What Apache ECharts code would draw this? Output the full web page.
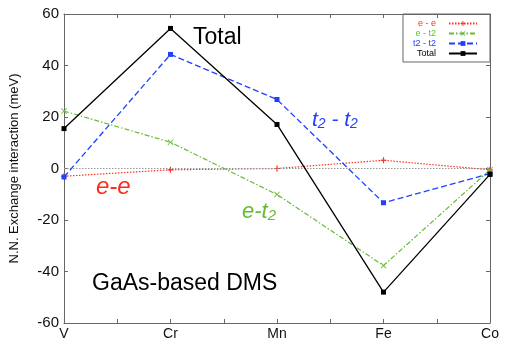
<!DOCTYPE html>
<html>
<head>
<meta charset="utf-8">
<script src="https://cdn.jsdelivr.net/npm/echarts@6/dist/echarts.min.js"></script>
<style>
    html, body {margin: 0; padding: 0; background: #fff;}
    #chart {width: 506px; height: 345px;}
</style>
</head>
<body>
<div id="chart"></div>
<script>
// data
var elements = ['V', 'Cr', 'Mn', 'Fe', 'Co'];
var eeVals = [-3.0, -0.5, 0.0, 3.2, -0.5];
var et2Vals = [22.3, 10.2, -10.1, -37.7, -0.5];
var t2t2Vals = [-3.3, 44.3, 26.8, -13.3, -2.0];
var totalVals = [15.5, 54.4, 17.1, -48.0, -2.3];
var yTicks = [-60, -40, -20, 0, 20, 40, 60];

var FONT = '"Liberation Sans", Arial, Helvetica, sans-serif';

function pts(vals) {
    return vals.map(function (v, i) { return [i, v]; });
}

// plus / cross markers as thin filled bars
var plusPath = 'path://M4,0L6,0L6,4L10,4L10,6L6,6L6,10L4,10L4,6L0,6L0,4L4,4Z';
var crossPath = 'path://M1,0L5,4L9,0L10,1L6,5L10,9L9,10L5,6L1,10L0,9L4,5L0,1Z';

var myChart = echarts.init(document.getElementById('chart'));

var axisCommon = {
    axisLine: {show: true, onZero: false, lineStyle: {color: '#666', width: 1}},
    axisTick: {show: true, inside: true, length: 4, lineStyle: {color: '#666'}},
    splitLine: {show: false}
};

option = {
    animation: false,
    backgroundColor: '#fff',
    grid: {left: 61, right: 16, top: 14, bottom: 22},
    legend: {
        orient: 'vertical',
        right: 16,
        top: 14,
        align: 'right',
        itemWidth: 28,
        itemHeight: 6,
        itemGap: 1,
        padding: [5, 12, 4, 10],
        borderColor: '#666',
        borderWidth: 1,
        textStyle: {fontSize: 9, fontFamily: FONT, padding: [0, 8, 0, 0]},
        data: [
            {name: 'e - e', textStyle: {color: '#ff3020'}},
            {name: 'e - t2', textStyle: {color: '#55cc22'}},
            {name: 't2 - t2', textStyle: {color: '#2040ff'}},
            {name: 'Total', textStyle: {color: '#000'}}
        ]
    },
    xAxis: [
        Object.assign({
            type: 'value',
            min: 0,
            max: 4,
            interval: 0.5,
            position: 'bottom',
            axisLabel: {
                fontSize: 14,
                color: '#111',
                fontFamily: FONT,
                margin: 4,
                formatter: function (v) {
                    return v % 1 === 0 ? elements[v] : '';
                }
            }
        }, axisCommon),
        Object.assign({
            type: 'value',
            min: 0,
            max: 4,
            interval: 0.5,
            position: 'top',
            axisLabel: {show: false}
        }, axisCommon)
    ],
    yAxis: [
        Object.assign({
            type: 'value',
            min: yTicks[0],
            max: yTicks[yTicks.length - 1],
            interval: 20,
            name: 'N.N. Exchange interaction (meV)',
            nameLocation: 'middle',
            nameGap: 43,
            nameTextStyle: {fontSize: 13, color: '#111', fontFamily: FONT},
            axisLabel: {fontSize: 15, color: '#111', fontFamily: FONT, margin: 5}
        }, axisCommon),
        Object.assign({
            type: 'value',
            min: yTicks[0],
            max: yTicks[yTicks.length - 1],
            interval: 20,
            position: 'right',
            axisLabel: {show: false}
        }, axisCommon)
    ],
    series: [
        {
            name: 'e - e',
            type: 'line',
            data: pts(eeVals),
            symbol: plusPath,
            symbolSize: 6,
            itemStyle: {color: '#ff3020'},
            lineStyle: {color: '#ff3020', width: 1.2, type: [1.5, 1.5]},
            markLine: {
                silent: true,
                symbol: 'none',
                label: {show: false},
                lineStyle: {color: '#999', width: 1, type: [1.5, 1.5]},
                data: [{yAxis: 0}]
            },
            z: 3
        },
        {
            name: 'e - t2',
            type: 'line',
            data: pts(et2Vals),
            symbol: crossPath,
            symbolSize: 6,
            itemStyle: {color: '#66bb33'},
            lineStyle: {color: '#66bb33', width: 1.2, type: [5, 2, 1.5, 2]},
            z: 4
        },
        {
            name: 't2 - t2',
            type: 'line',
            data: pts(t2t2Vals),
            symbol: 'rect',
            symbolSize: 5,
            itemStyle: {color: '#2040ff'},
            lineStyle: {color: '#2040ff', width: 1.3, type: [6, 3]},
            z: 5
        },
        {
            name: 'Total',
            type: 'line',
            data: pts(totalVals),
            symbol: 'rect',
            symbolSize: 5,
            itemStyle: {color: '#000'},
            lineStyle: {color: '#000', width: 1.3},
            z: 6
        }
    ],
    graphic: [
        {
            type: 'text', left: 193, top: 26, silent: true,
            style: {text: 'Total', font: '23px ' + FONT, fill: '#000'}
        },
        {
            type: 'text', left: 312, top: 110, silent: true,
            style: {
                text: '{a|t}{s|2}{a| - t}{s|2}',
                rich: {
                    a: {font: 'italic 21px ' + FONT, fill: '#2040ff'},
                    s: {font: 'italic 14px ' + FONT, fill: '#2040ff', padding: [8, 0, 0, 0]}
                }
            }
        },
        {
            type: 'text', left: 96, top: 175, silent: true,
            style: {text: 'e-e', font: 'italic 24px ' + FONT, fill: '#ff2a1a'}
        },
        {
            type: 'text', left: 242, top: 201, silent: true,
            style: {
                text: '{a|e-t}{s|2}',
                rich: {
                    a: {font: 'italic 22px ' + FONT, fill: '#66bb33'},
                    s: {font: 'italic 15px ' + FONT, fill: '#66bb33', padding: [8, 0, 0, 0]}
                }
            }
        },
        {
            type: 'text', left: 92, top: 272, silent: true,
            style: {text: 'GaAs-based DMS', font: '23px ' + FONT, fill: '#000'}
        }
    ]
};

myChart.setOption(option);
</script>
</body>
</html>
